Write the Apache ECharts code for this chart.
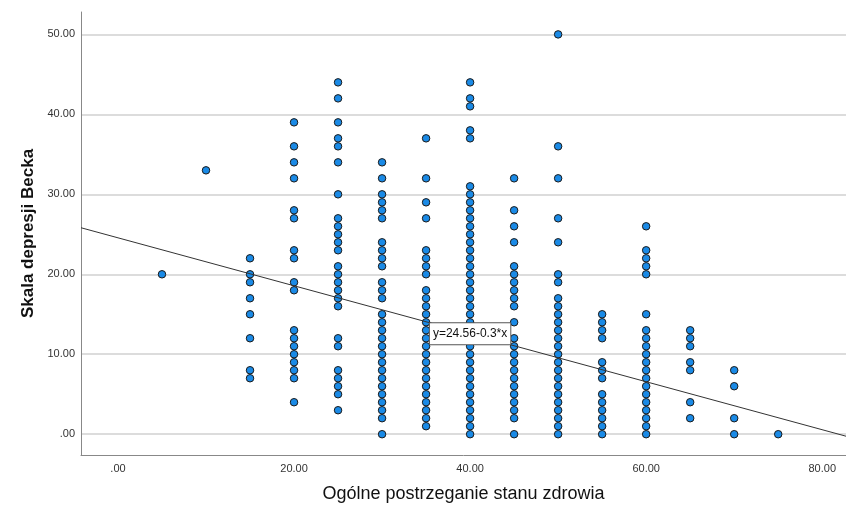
<!DOCTYPE html>
<html>
<head>
<meta charset="utf-8">
<script src="https://cdn.jsdelivr.net/npm/echarts@6/dist/echarts.min.js"></script>
<style>
html,body{margin:0;padding:0;background:#fff;}
#chart{width:846px;height:508px;}
</style>
</head>
<body>
<div id="chart"></div>
<script>
// ---- data ----
const xGroups = [5, 10, 15, 20, 25, 30, 35, 40, 45, 50, 55, 60, 65, 70, 75];
const yAt5  = [20];
const yAt10 = [33];
const yAt15 = [22, 20, 19, 17, 15, 12, 8, 7];
const yAt20 = [39, 36, 34, 32, 28, 27, 23, 22, 19, 18, 13, 12, 11, 10, 9, 8, 7, 4];
const yAt25 = [44, 42, 39, 37, 36, 34, 30, 27, 26, 25, 24, 23, 21, 20, 19, 18, 17, 16, 12, 11, 8, 7, 6, 5, 3];
const yAt30 = [34, 32, 30, 29, 28, 27, 24, 23, 22, 21, 19, 18, 17, 15, 14, 13, 12, 11, 10, 9, 8, 7, 6, 5, 4, 3, 2, 0];
const yAt35 = [37, 32, 29, 27, 23, 22, 21, 20, 18, 17, 16, 15, 14, 13, 12, 11, 10, 9, 8, 7, 6, 5, 4, 3, 2, 1];
const yAt40 = [44, 42, 41, 38, 37, 31, 30, 29, 28, 27, 26, 25, 24, 23, 22, 21, 20, 19, 18, 17, 16, 15, 14, 13, 12, 11, 10, 9, 8, 7, 6, 5, 4, 3, 2, 1, 0];
const yAt45 = [32, 28, 26, 24, 21, 20, 19, 18, 17, 16, 14, 12, 11, 10, 9, 8, 7, 6, 5, 4, 3, 2, 0];
const yAt50 = [50, 36, 32, 27, 24, 20, 19, 17, 16, 15, 14, 13, 12, 11, 10, 9, 8, 7, 6, 5, 4, 3, 2, 1, 0];
const yAt55 = [15, 14, 13, 12, 9, 8, 7, 5, 4, 3, 2, 1, 0];
const yAt60 = [26, 23, 22, 21, 20, 15, 13, 12, 11, 10, 9, 8, 7, 6, 5, 4, 3, 2, 1, 0];
const yAt65 = [13, 12, 11, 9, 8, 4, 2];
const yAt70 = [8, 6, 2, 0];
const yAt75 = [0];
const yGroups = [yAt5, yAt10, yAt15, yAt20, yAt25, yAt30, yAt35, yAt40, yAt45, yAt50, yAt55, yAt60, yAt65, yAt70, yAt75];

const xTicks = [0, 20, 40, 60, 80];
const xTickLabels = ['.00', '20.00', '40.00', '60.00', '80.00'];
const yTicks = [0, 10, 20, 30, 40, 50];
const yTickLabels = ['.00', '10.00', '20.00', '30.00', '40.00', '50.00'];

const fitIntercept = 24.56;
const fitSlope = -0.3;
const fitLabel = 'y=24.56-0.3*x';
const fitLabelX = 40;

const xTitle = 'Ogólne postrzeganie stanu zdrowia';
const yTitle = 'Skala depresji Becka';

// ---- build ----
const xMin = -4.2, xMax = 82.7, yMin = -2.6, yMax = 52.8;
const points = [];
xGroups.forEach((x, i) => yGroups[i].forEach(y => points.push([x, y])));
const fitLine = [[xMin, fitIntercept + fitSlope * xMin], [xMax, fitIntercept + fitSlope * xMax]];

const font = 'Liberation Sans, Arial, sans-serif';
const chart = echarts.init(document.getElementById('chart'), null, {renderer: 'canvas'});
chart.setOption({
  animation: false,
  backgroundColor: '#fff',
  grid: {left: 81, right: 0, top: 12, bottom: 53, containLabel: false},
  xAxis: {
    type: 'value', min: xMin, max: xMax,
    name: xTitle, nameLocation: 'middle', nameGap: 30,
    nameTextStyle: {fontFamily: font, fontSize: 18, color: '#111'},
    axisLine: {onZero: false, lineStyle: {color: '#888', width: 1}},
    axisTick: {show: false},
    splitLine: {show: false},
    axisLabel: {
      customValues: xTicks, margin: 8, fontFamily: font, fontSize: 11, color: '#333',
      formatter: v => xTickLabels[xTicks.indexOf(Math.round(v))]
    }
  },
  yAxis: {
    type: 'value', min: yMin, max: yMax,
    name: yTitle, nameLocation: 'middle', nameGap: 44,
    nameTextStyle: {fontFamily: font, fontSize: 17, fontWeight: 'bold', color: '#111'},
    axisLine: {onZero: false, lineStyle: {color: '#888', width: 1}},
    axisTick: {show: false},
    splitLine: {show: false},
    axisLabel: {
      customValues: yTicks, margin: 6, fontFamily: font, fontSize: 11, color: '#333',
      formatter: v => yTickLabels[yTicks.indexOf(Math.round(v))]
    }
  },
  series: [
    {
      type: 'line', data: [], silent: true, z: 0, zlevel: 0,
      markLine: {
        silent: true, symbol: 'none', label: {show: false}, z: 0,
        lineStyle: {color: '#d0d0d0', width: 1.5, type: 'solid'},
        data: yTicks.map(v => ({yAxis: v}))
      }
    },
    {
      type: 'scatter', data: points, symbol: 'circle', symbolSize: 7.5,
      itemStyle: {color: '#1a8ae6', borderColor: '#1a1a1a', borderWidth: 1, opacity: 1},
      z: 5
    },
    {
      type: 'line', data: fitLine, symbol: 'none', silent: true,
      lineStyle: {color: '#333', width: 1}, z: 6,
      markPoint: {
        symbol: 'rect', symbolSize: 0, silent: true, z: 7,
        label: {
          show: true, position: 'inside', formatter: fitLabel,
          fontFamily: font, fontSize: 12, color: '#111',
          backgroundColor: '#fff', borderColor: '#555', borderWidth: 1,
          padding: [5, 3, 4, 3]
        },
        data: [{coord: [fitLabelX, fitIntercept + fitSlope * fitLabelX]}]
      }
    }
  ]
});
</script>
</body>
</html>
